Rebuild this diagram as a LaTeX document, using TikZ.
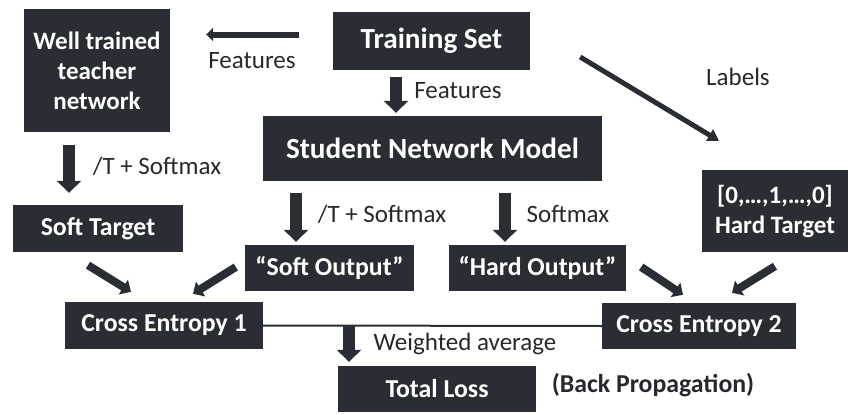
\documentclass[tikz,border=0pt]{standalone}
\usepackage{fontspec}
\setmainfont{Carlito}
\usetikzlibrary{arrows.meta,calc}
\definecolor{boxc}{RGB}{42,46,52}
\definecolor{txtc}{RGB}{38,40,44}
\begin{document}
\begin{tikzpicture}[x=1pt,y=-1pt,
  box/.style={draw=none,fill=boxc,text=white,font=\bfseries\fontsize{25.8}{30}\selectfont,
    inner sep=0pt,align=center,anchor=center},
  bigbox/.style={box,font=\bfseries\fontsize{29.2}{32}\selectfont},
  lbl/.style={text=txtc,font=\fontsize{25}{28}\selectfont,inner sep=0pt,anchor=center},
  varrow/.style={draw=boxc,line width=12pt,-{Triangle[width=24pt,length=12pt]}},
  harrow/.style={draw=boxc,line width=6pt,-{Triangle[width=13pt,length=7pt]}},
  darrow/.style={draw=boxc,line width=8pt,-{Triangle[width=17pt,length=9pt]}},
  larrow/.style={draw=boxc,line width=5pt,-{Triangle[width=13pt,length=11pt]}}]
\useasboundingbox (0,0) rectangle (857,415);
% boxes
\node[box,font=\bfseries\fontsize{25}{30}\selectfont,minimum width=146pt,minimum height=123pt] (teacher) at (97,70.5) {Well trained\\teacher\\network};
\node[bigbox,minimum width=197pt,minimum height=58pt] (train) at (431.5,41) {Training Set};
\node[bigbox,minimum width=339pt,minimum height=65pt] (student) at (432.5,148.5) {Student Network Model};
\node[box,minimum width=170pt,minimum height=47pt] (softT) at (98,228.5) {Soft Target};
\node[box,minimum width=169pt,minimum height=46pt] (softO) at (329.5,268) {“Soft Output”};
\node[box,minimum width=177pt,minimum height=46pt] (hardO) at (537.5,268) {“Hard Output”};
\node[box,font=\bfseries\fontsize{25}{30}\selectfont,minimum width=146pt,minimum height=82pt] (hardT) at (775,211) {[0,…,1,…,0]\\Hard Target};
\node[box,minimum width=198pt,minimum height=47pt] (ce1) at (164,325.5) {Cross Entropy 1};
\node[box,minimum width=194pt,minimum height=46pt] (ce2) at (699,326) {Cross Entropy 2};
\node[box,minimum width=198pt,minimum height=46pt] (total) at (437,389) {Total Loss};
% labels
\node[lbl] (l1) at (252,61) {Features};
\node[lbl] (l2) at (458,91) {Features};
\node[lbl] (l3) at (157,166) {/T + Softmax};
\node[lbl] (l4) at (382,214) {/T + Softmax};
\node[lbl] (l5) at (568,214) {Softmax};
\node[lbl] (l6) at (738,77) {Labels};
\node[lbl] (l7) at (465,344) {Weighted average};
\node[lbl,font=\bfseries\fontsize{25.8}{28}\selectfont] (l8) at (653,385) {(Back Propagation)};
% connectors
\draw[line width=2pt,draw=boxc] (ce1.east) -- (ce2.west);
\coordinate (wstart) at ($(total.north)+(-88,-40)$);
\draw[varrow] (wstart) -- ($(total.north)+(-88,-4)$);
\draw[harrow] ($(train.west)+(-34,-6.5)$) -- ($(teacher.east)+(36,-36)$);
\draw[varrow] ($(train.south)+(-35.5,7)$) -- ($(student.north)+(-36.5,-3)$);
\draw[varrow] ($(teacher.south)+(-28,13)$) -- ($(softT.north)+(-29,-12)$);
\draw[varrow] ($(student.south)+(-136.5,12)$) -- ($(softO.north)+(-33.5,-3)$);
\draw[varrow] ($(student.south)+(72.5,12)$) -- ($(hardO.north)+(-32.5,-3)$);
\draw[darrow] ($(softT.south)+(-10,13)$) -- ($(ce1.north)+(-33,-10)$);
\draw[darrow] ($(softO.west)+(-9,-1)$) -- ($(ce1.north)+(29,-8)$);
\draw[darrow] ($(hardO.east)+(15,-1)$) -- ($(ce2.north)+(-16,-8)$);
\draw[darrow] ($(hardT.south)+(0,14)$) -- ($(ce2.north)+(33,-10)$);
\draw[larrow] ($(train.east)+(50,16)$) -- ($(hardT.north)+(-56,-29)$);
\end{tikzpicture}
\end{document}
